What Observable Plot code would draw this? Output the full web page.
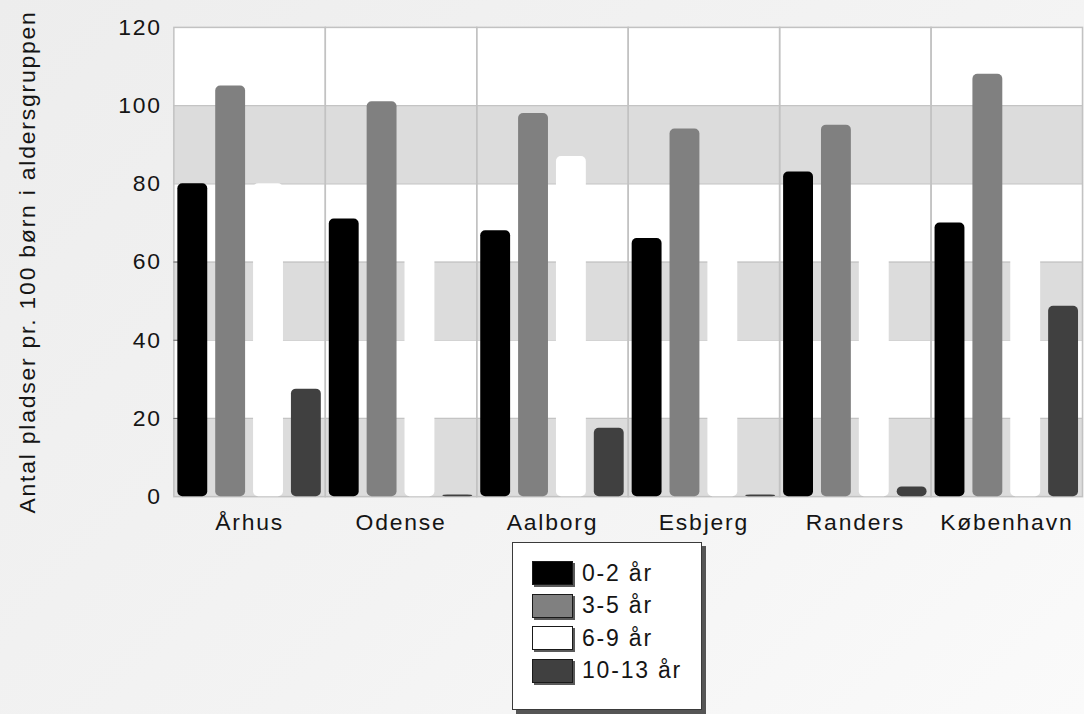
<!DOCTYPE html>
<html>
<head>
<meta charset="utf-8">
<script src="https://cdn.jsdelivr.net/npm/d3@7"></script>
<script src="https://cdn.jsdelivr.net/npm/@observablehq/plot@0.6"></script>
<style>
  html, body { margin: 0; padding: 0; overflow: hidden; }
  body {
    width: 1084px; height: 714px;
    background: linear-gradient(135deg, #ededed 0%, #f3f3f3 55%, #fafafa 100%);
    font-family: "Liberation Sans", Arial, sans-serif;
  }
  #chart svg { display: block; background: transparent; }
  #chart svg text {
    font-family: "Liberation Sans", Arial, sans-serif;
    font-size: 23px;
    letter-spacing: 1.8px;
    fill: #151515;
  }
  #legend {
    position: relative;
    margin-left: 512px;
    width: 188px;
    height: 166px;
    border: 1.5px solid #3a3a3a;
    background: #ffffff;
    box-shadow: 4px 4px 0 #555;
    box-sizing: content-box;
  }
  .item {
    position: absolute;
    left: 19px;
    height: 24px;
    display: flex;
    align-items: center;
    font-size: 23px;
    letter-spacing: 1.8px;
    color: #151515;
  }
  .sw {
    width: 39px; height: 22px;
    border: 1px solid #1a1a1a;
    box-shadow: 2px 2px 0 #5a5a5a;
    margin-right: 9px;
  }
</style>
</head>
<body>
<div id="chart"></div>
<script>
const cities = ["Århus", "Odense", "Aalborg", "Esbjerg", "Randers", "København"];
const groups = ["0-2 år", "3-5 år", "6-9 år", "10-13 år"];
const age0to2 = [80, 71, 68, 66, 83, 70];
const age3to5 = [105, 101, 98, 94, 95, 108];
const age6to9 = [80, 78, 87, 78, 78, 78];
const age10to13 = [27.5, 0.4, 17.5, 0.4, 2.5, 48.7];
const fills = ["#000000", "#808080", "#ffffff", "#404040"];
const yTicks = [0, 20, 40, 60, 80, 100, 120];
const yLabel = "Antal pladser pr. 100 børn i aldersgruppen";

const series = [age0to2, age3to5, age6to9, age10to13];
const data = [];
cities.forEach((c, i) => groups.forEach((g, j) => data.push({city: c, group: g, value: series[j][i]})));

// shaded bands: every other interval between ticks, starting at 0
const bands = [];
for (let i = 0; i + 1 < yTicks.length; i += 2) bands.push({y1: yTicks[i], y2: yTicks[i + 1]});

const chart = Plot.plot({
  width: 1088,
  height: 544,
  marginLeft: 174,
  marginRight: 2,
  marginTop: 27,
  marginBottom: 46,
  fx: {domain: cities, padding: 0, label: null},
  x: {domain: groups, paddingInner: 0.21, paddingOuter: 0.105, axis: null},
  y: {domain: [0, 120]},
  color: {domain: groups, range: fills},
  marks: [
    Plot.frame({fill: "white", stroke: null}),
    Plot.rectY(bands, {y1: "y1", y2: "y2", fill: "#dcdcdc"}),
    Plot.ruleY(yTicks.slice(1, -1), {stroke: "#c4c4c4", strokeWidth: 1.2}),
    Plot.frame({stroke: "#c2c2c2", strokeWidth: 1.5}),
    Plot.axisY({ticks: [20, 40, 60], tickSize: -12, tickFormat: () => "", stroke: "#6a6a6a", label: null}),
    Plot.barY(data, {fx: "city", x: "group", y: "value", fill: "group", rx: 5}),
    Plot.axisY({ticks: yTicks, tickSize: 0, tickPadding: 12, label: yLabel, labelAnchor: "center", labelOffset: 156, labelArrow: "none"}),
    Plot.axisFx({anchor: "bottom", tickSize: 0, tickPadding: 17, label: null})
  ]
});
document.getElementById("chart").appendChild(chart);

const legend = document.createElement("div");
legend.id = "legend";
groups.forEach((g, i) => {
  const item = document.createElement("div");
  item.className = "item";
  item.style.top = (18 + i * 32.5) + "px";
  const sw = document.createElement("div");
  sw.className = "sw";
  sw.style.background = fills[i];
  const lab = document.createElement("span");
  lab.textContent = g;
  item.appendChild(sw);
  item.appendChild(lab);
  legend.appendChild(item);
});
document.getElementById("chart").appendChild(legend);
</script>
</body>
</html>
